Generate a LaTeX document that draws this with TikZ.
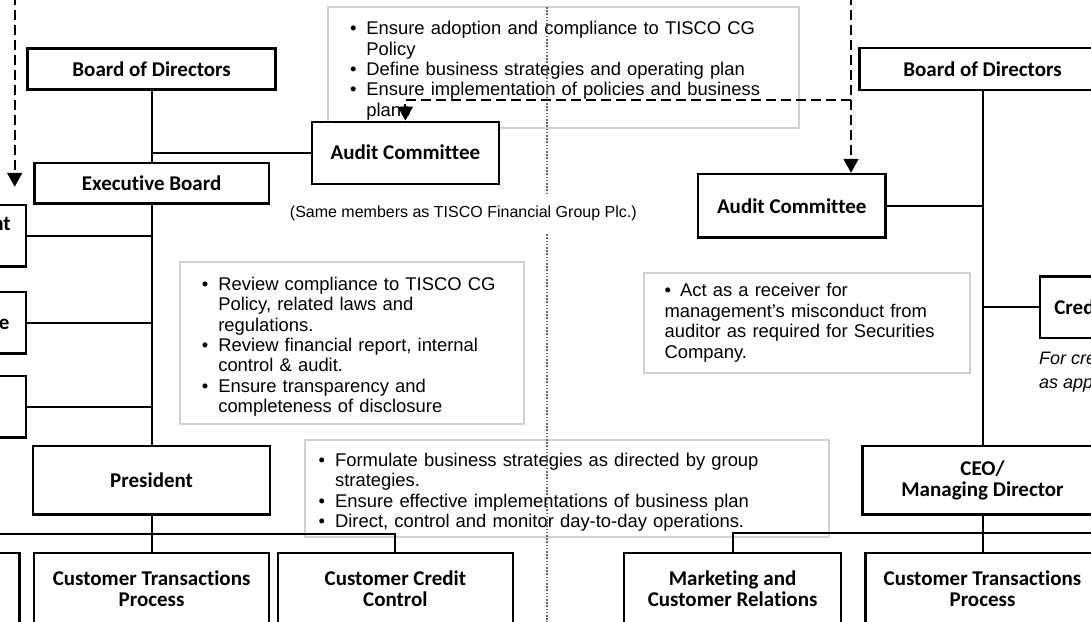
\documentclass[tikz,border=0pt]{standalone}
\usepackage{fontspec}
\setmainfont{Liberation Sans}
\newfontfamily\unitfont[Ligatures=NoCommon]{Carlito}
\usepackage{tikz}
\usetikzlibrary{positioning}
\usetikzlibrary{arrows.meta}

\newcommand{\bul}{\par\noindent\hangindent=8.2pt\makebox[8.2pt][l]{\textbullet}}

\begin{document}
\begin{tikzpicture}[x=0.5pt,y=-0.5pt,
  unit/.style={draw,line width=1.2pt,fill=white,align=center,inner sep=0pt,
    font=\unitfont\bfseries\fontsize{10.5}{10.5}\selectfont},
  note/.style={draw=black!18,line width=1pt,anchor=north west,align=left,
    inner ysep=0pt,font=\fontsize{9.2}{10.2}\selectfont},
  link/.style={line width=1pt},
  ref/.style={line width=1pt,dash pattern=on 5pt off 2.5pt,
    -{Triangle[length=7pt,width=7.5pt]}}]
\useasboundingbox (0,0) rectangle (1091,621);
\clip (0,0) rectangle (1091,621);

% notes
\node[note,inner xsep=11pt,text width=213.5pt,minimum height=60.5pt] (boardN) at (327,5.7)
  {\bul Ensure adoption and compliance to TISCO CG\newline Policy
   \bul Define business strategies and operating plan
   \bul Ensure implementation of policies and business\newline plans\par};
\node[note,inner xsep=11pt,text width=150.2pt,minimum height=81.15pt] (auditN) at (178.9,261)
  {\bul Review compliance to TISCO CG\newline Policy, related laws and\newline regulations.
   \bul Review financial report, internal\newline control \& audit.
   \bul Ensure transparency and\newline completeness of disclosure\par};
\node[note,inner xsep=10.5pt,text width=142.4pt,minimum height=50pt] (secN) at (642.6,271.7)
  {\noindent\makebox[7.8pt][l]{\textbullet}Act as a receiver for\newline management’s misconduct from\newline auditor as required for Securities\newline Company.\par};
\node[note,inner xsep=7pt,text width=248.15pt,minimum height=48.2pt] (presN) at (303.7,439.3)
  {\bul Formulate business strategies as directed by group\newline strategies.
   \bul Ensure effective implementations of business plan
   \bul Direct, control and monitor day-to-day operations.\par};

% divider
\coordinate (divT) at (547.2,7);
\coordinate (divB) at (547.2,625);
\draw[black!60,line width=0.8pt,dash pattern=on 0.8pt off 0.8pt] (divT) -- (divB);
\node[fill=white,inner xsep=2pt,minimum height=19.5pt,font=\fontsize{8}{9.6}\selectfont] (same) at (463.3,213)
  {(Same members as TISCO Financial Group Plc.)};

% left group
\node[unit,minimum width=123.95pt,minimum height=20.5pt] (bodL) at (151.6,68.8) {Board of Directors};
\node[unit,minimum width=117.3pt,minimum height=20.3pt]  (exeL) at (151.6,183)  {Executive Board};
\node[unit,minimum width=93.4pt,minimum height=31pt]     (audL) at (405.4,152.7) {Audit Committee};
\node[unit,minimum width=93.5pt,minimum height=30.85pt,text depth=13pt] (comA) at (-67.8,235.8) {Risk Management};
\node[unit,minimum width=93.5pt,minimum height=30.8pt]   (comB) at (-67.8,322.5) {Credit Committee};
\node[unit,minimum width=93.5pt,minimum height=30.8pt]   (comC) at (-67.8,406.5) {};
\node[unit,minimum width=118.5pt,minimum height=34.3pt]  (preL) at (151.6,480)  {President};
\node[unit,minimum width=117.4pt,minimum height=35.5pt]  (botL) at (-98,588.6)  {};
\node[unit,minimum width=117.5pt,minimum height=35.5pt]  (ctpL) at (151.6,588.6) {Customer Transactions\\Process};
\node[unit,minimum width=117.4pt,minimum height=35.5pt]  (cccL) at (395.4,588.6) {Customer Credit\\Control};

\path[link] (bodL) edge (exeL)
            (exeL) edge (preL)
            (preL) edge (ctpL);
\draw[link] (audL.west) -- (audL.west -| bodL.south);
\draw[link] (comA.east) -- (comA.east -| exeL.south);
\draw[link] (comB.east) -- (comB.east -| exeL.south);
\draw[link] (comC.east) -- (comC.east -| exeL.south);
\coordinate (busL) at (-98,534.3);
\draw[link] (botL.north) -- (busL) -| (cccL.north);

% right group
\node[unit,minimum width=123pt,minimum height=21pt]      (bodR) at (982.5,69)   {Board of Directors};
\node[unit,minimum width=93.7pt,minimum height=31.85pt]  (audR) at (791.7,205.8) {Audit Committee};
\node[unit,minimum width=91.5pt,minimum height=30.65pt]  (credR) at (1131.5,307.3) {Credit Committee};
\node[font=\itshape\fontsize{9}{11.8}\selectfont,align=left,inner sep=0pt] (credN)
  [below=6pt of credR.south west,anchor=north west] {For credit approval\\as appropriate};
\node[unit,minimum width=120pt,minimum height=34.3pt]    (ceoR) at (982.5,480)  {CEO/\\Managing Director};
\node[unit,minimum width=108.35pt,minimum height=35.5pt] (mktR) at (732.6,588.6) {Marketing and\\Customer Relations};
\node[unit,minimum width=117pt,minimum height=35.5pt]    (ctpR) at (982.5,588.6) {Customer Transactions\\Process};

\path[link] (bodR) edge (ceoR)
            (ceoR) edge (ctpR);
\draw[link] (audR.east) -- (audR.east -| bodR.south);
\draw[link] (credR.west) -- (credR.west -| bodR.south);
\coordinate (busR) at (1100,533.3);
\draw[link] (mktR.north) |- (busR);

% reporting lines
\coordinate (topL) at (14.7,-5);
\coordinate (topR) at (851,-5);
\coordinate (brR) at (851,100);
\draw[ref,shorten >=8.5pt] (topL) -- (topL |- comA.north);
\draw[ref] (topR) -- (topR |- audR.north);
\draw[ref] (brR) -| (audL.north);

\end{tikzpicture}
\end{document}
